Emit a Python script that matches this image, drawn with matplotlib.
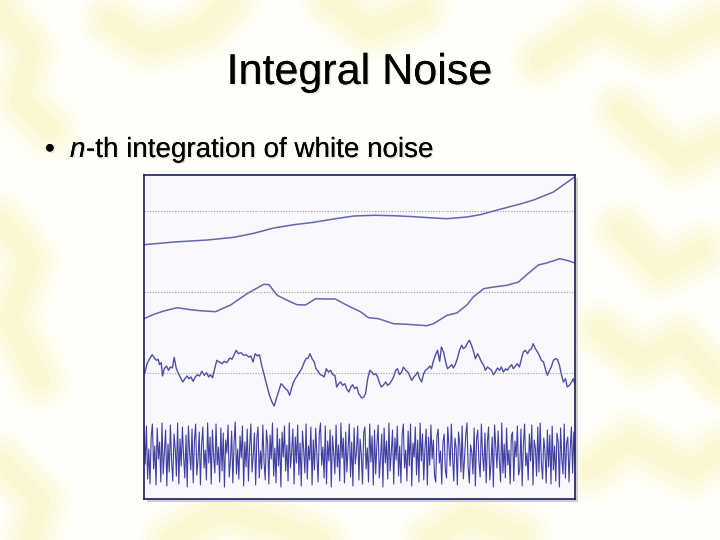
import numpy as np
import matplotlib.pyplot as plt
from matplotlib.patches import Rectangle
import matplotlib.patheffects as pe

# ---- data ----
# sample positions along each trace run 0..1000 (left to right edge of the box)
x_int3 = [0, 70, 147, 209, 255, 301, 348, 394, 440, 487, 533, 579, 626, 672,
          703, 749, 780, 826, 873, 904, 950, 1000]
y_int3 = [-33.7, -31, -29, -26.3, -22.3, -17, -13.7, -11.3, -8, -5, -4.3, -4.7,
          -5.7, -7, -7.7, -6, -3.7, 1.7, 7, 11, 19, 34.3]

x_int2 = [0, 23, 46, 77, 108, 131, 166, 201, 239, 278, 290, 309, 332, 355, 375,
          398, 425, 444, 471, 502, 521, 544, 579, 610, 633, 656, 672, 703, 726,
          749, 764, 788, 811, 842, 869, 888, 915, 934, 965, 981, 1000]
y_int2 = [-26.7, -22.3, -19, -15.7, -17.7, -18.7, -19.7, -13, -1.7, 7.7, 7.3,
          -3.3, -8.3, -12.7, -13, -6.7, -7, -7, -13.3, -19.7, -25.7, -26.7,
          -31.7, -32.3, -33, -33.7, -31.7, -23.3, -21, -13, -5, 3.3, 5, 6.7, 10,
          17.3, 27, 29, 33.3, 31.7, 29]

x_int1 = [2, 7, 13, 19, 24, 29, 33, 36, 40, 43, 47, 52, 57, 61, 66, 70, 75, 80,
          84, 90, 95, 100, 104, 109, 114, 119, 124, 129, 134, 140, 145, 150, 154,
          159, 164, 169, 175, 181, 186, 192, 199, 204, 209, 214, 219, 225, 231,
          237, 243, 248, 253, 258, 263, 268, 273, 279, 285, 291, 297, 302, 307,
          312, 318, 322, 328, 333, 338, 342, 347, 351, 356, 361, 366, 372, 376,
          381, 385, 390, 395, 399, 404, 409, 413, 418, 423, 428, 433, 438, 443,
          447, 452, 456, 461, 466, 470, 475, 480, 484, 489, 494, 498,
          501, 505, 510, 514, 519, 524, 528, 533, 538, 542, 547, 551, 556, 561,
          565, 570, 575, 579, 584, 588, 593, 598, 602, 607, 612, 616, 621, 626,
          630, 635, 639, 644, 649, 653, 658, 663, 667, 672, 676, 681, 686, 690,
          695, 700, 704, 709, 714, 718, 723, 727, 732, 737, 741, 746, 751, 755,
          760, 765, 769, 774, 778, 783, 788, 792, 797, 802, 806, 811, 815, 820,
          825, 829, 834, 839, 843, 848, 853, 857, 862, 866, 871, 876, 880, 885,
          890, 894, 899, 903, 908, 913, 917, 922, 927, 931, 936, 941, 945, 950,
          954, 959, 964, 968, 973, 978, 982, 987, 992, 996, 1000]
y_int1 = [0, 9.3, 14.3, 18.3, 15, 12.7, 13.7, 8.3, 10.3, -3, 4.3, 7, 2.7, 6, 5,
          15.7, 4.3, -0.7, -4, -9, -5.7, -3, -5.7, -4, -8.3, -4, -1.7, -3, 1.7,
          -2.3, 0.3, -4, -1.7, -4.7, 4.3, 12.7, 11, 9.3, 11.7, 10.3, 15, 13.7,
          18.3, 22.7, 19.3, 20.3, 17.7, 18.3, 16, 17, 11, 19.3, 17, 18.3, 7.7,
          -2.3, -12.3, -22.3, -29, -33, -25.7, -19, -10.7, -12.3, -15.7, -17.3,
          -22.3, -15.7, -9, -5.7, -2.3, 1, 4.3, 11, 14.3, 15, 19.3, 14.3, 11, 4.3,
          1.7, -1.7, -2.3, -4, 4.3, 1, 2.7, -1.7, -2.3, -14, -10.7, -9, -12.3,
          -10.7, -15.7, -19, -14, -11.7, -15.7, -14, -20.7,
          -22.3, -25, -24, -20.7, -5.7, 2.7, 1, -1.7, -0.7, -4, -10.7, -14,
          -11.7, -9, -12.3, -10.7, -7.3, -4, 2.7, 4.3, -1.7, 1, 6, 2.7, 1, -2.3,
          -7.3, -4, -2.3, 1, -5, -9, -0.7, 2.7, 4.3, 7, 4.3, 12.7, 17.7, 22.7,
          11.7, 26, 21, 11, 4.3, 6, 8.3, 5, 9.3, 14.3, 22.7, 27.7, 24.3, 26, 30.3,
          32.7, 27.7, 21, 14.3, 19.3, 16, 11, 7.7, 2.7, 6, 4.3, 2.7, -1.7, 1, 5,
          2.7, 6, 1, 4.3, 2.7, 6, 8.3, 4.3, 7, 9.3, 6, 14.3, 21, 22.7, 19.3, 22.7,
          24.3, 29.3, 24.3, 21, 17.7, 12.7, 11, 4.3, -2.3, 2.7, 6, 12.7, 14.3,
          13.7, 7.7, -0.7, -9, -5.7, -14, -12.3, -9, -5.7, -11.7]

white = [22, -10, 28, -25, 5, -30, 18, 30, -15, 8, -31, 26, -5, 12, -28, 31, -20, 3, 24, -32,
         10, -18, 29, -8, -27, 20, 6, -22, 31, -30, 15, -12, 27, -3, -24, 19, -33, 28, 2, -16,
         25, -29, 13, 30, -21, -6, 22, -31, 9, 27, -14, 4, -26, 31, -9, 17, -30, 24, -2, -19,
         30, -11, 7, -28, 26, -17, 21, -33, 14, 1, 29, -23, -7, 23, -29, 11, 32, -20, 5, -25,
         18, -4, 28, -32, 12, -13, 25, -27, 8, 30, -18, -1, 21, -31, 16, 27, -24, 3, -15, 29,
         -8, -26, 24, 10, -30, 19, -5, 31, -22, 6, -29, 26, -12, 15, -33, 22, -3, 28, -17, 9,
         -27, 31, -14, 2, 25, -30, 17, -9, 29, -21, 11, -32, 23, 4, -19, 30, -25, 8, -6, 27,
         -31, 14, -16, 26, -2, -28, 20, 31, -11, 7, -24, 28, -30, 13, -7, 24, -33, 18, 1, -20,
         29, -13, 9, -27, 31, -4, 16, -29, 22, -18, 5, 30, -23, 12, -32, 26, -10, 3, 28, -26,
         15, -1, -30, 21, 27, -15, 6, -28, 30, -8, 18, -31, 24, -20, 10, 29, -24, -5, 20, -33,
         26, -9, 13, -25, 31, -17, 2, 24, -30, 16, -6, 28, -22, 8, -29, 19, 30, -14, 4, -27,
         23, -12, 30, -32, 11, -3, 27, -21, 14, -28, 31, -7, 20, -26, 5, 25, -31, 17, -11, 29,
         -5, 14, -22, -28, 18, 25, -9, 3, -30, 12, 20, -16, -24, 27, 8, -12, 30, -2, -27, 16,
         6, -31, 22, 11, -18, 28, -25, -4, 19, 31, -13, -29, 9, 2, -20, 26, -32, 15, 24, -8,
         -23, 30, -1, -17, 21, -29, 12, 27, -26, -10, 17, -33, 29, 7, -14, 23, -6, -28, 31, -19,
         10, -24, 26, -11, 4, -30, 18, 22, -27, 13, -3, 28, -21, -15, 25, -32, 9, 30, -12, 1,
         -26, 20, -7, 29, -31, 14, 6, -22, 27, -18, 31, -9, -25, 16, 3, -29, 24, -13, 19, -30,
         28, -16, 8, -27, 21, 12, -33, 26, -5, -20, 30, -24, 11, 17, -28, 5, 27, -19, 22, -10]

title = "Integral Noise"
bullet_var = "n"
bullet_rest = "-th integration of white noise"

# vertical spacing between the stacked traces
spacing = 81

plt.rcParams['font.family'] = ['Liberation Sans', 'DejaVu Sans']

fig = plt.figure(figsize=(7.2, 5.4), dpi=100)
fig.patch.set_facecolor('#fffffa')

# --- soft yellow swirls in the slide background ---
bg = fig.add_axes([0, 0, 1, 1], zorder=-10)
bg.set_xlim(0, 720)
bg.set_ylim(540, 0)
bg.axis('off')
swirls = [
    [(0, 10), (30, 50), (20, 100), (50, 130)],
    [(110, 20), (150, 45), (200, 30), (230, 0)],
    [(540, 60), (600, 20), (660, 50), (720, 20)],
    [(620, 110), (680, 160), (720, 140)],
    [(0, 220), (30, 260), (10, 320), (40, 380)],
    [(600, 330), (640, 360), (680, 340), (720, 380)],
    [(590, 470), (630, 440), (690, 470), (720, 450)],
    [(170, 540), (220, 510), (280, 525), (320, 540)],
    [(430, 540), (470, 515), (520, 535)],
    [(0, 460), (40, 500), (30, 540)],
    [(330, 0), (370, 30), (420, 10)],
    [(620, 230), (660, 270), (700, 250)],
]
for pts in swirls:
    px, py = zip(*pts)
    for lw, a in [(44, 0.07), (34, 0.08), (24, 0.09), (14, 0.1)]:
        bg.plot(px, py, color='#f3e67a', lw=lw, alpha=a,
                solid_capstyle='round', solid_joinstyle='round')

# --- slide text ---
shadow = [pe.withSimplePatchShadow(offset=(1, -1), shadow_rgbFace='#c8c8c8', alpha=0.5),
          pe.Normal()]
fig.text(0.499, 1 - 84 / 540, title, ha='center', va='baseline', fontsize=31,
         color='black', path_effects=shadow)
fig.text(45 / 720, 1 - 157 / 540, "\u2022", ha='left', va='baseline', fontsize=20,
         path_effects=shadow)
fig.text(70 / 720, 1 - 157 / 540, bullet_var, ha='left', va='baseline', fontsize=20,
         style='italic', path_effects=shadow)
fig.text(86 / 720, 1 - 157 / 540, bullet_rest, ha='left', va='baseline', fontsize=20,
         path_effects=shadow)

# --- chart ---
left, right, top, bottom = 144 / 720, 575 / 720, 1 - 175 / 540, 1 - 499 / 540
shadow_box = Rectangle((left + 3 / 720, bottom - 3 / 540), right - left, top - bottom,
                       transform=fig.transFigure, facecolor='#cfcfcf',
                       edgecolor='none', zorder=-5)
fig.add_artist(shadow_box)
ax = fig.add_axes([left, bottom, right - left, top - bottom], zorder=1)
ax.set_facecolor('#f9f9fd')

for k in range(4):
    ax.axhline(k * spacing, color='#a0a0a0', lw=0.8, ls=(0, (1, 1.5)), zorder=1)

x_white = np.linspace(0, 1000, len(white))
ax.plot(x_white, np.array(white), color='#4040a4', lw=0.8, zorder=2)
ax.plot(x_int1, np.array(y_int1) + spacing, color='#4f4fa8', lw=1.0, zorder=2)
ax.plot(x_int2, np.array(y_int2) + 2 * spacing, color='#6565b0', lw=1.1, zorder=2)
ax.plot(x_int3, np.array(y_int3) + 3 * spacing, color='#6565b0', lw=1.1, zorder=2)

ax.set_xlim(0, 1000)
ax.set_ylim(-45, 3 * spacing + 36)
ax.set_xticks([])
ax.set_yticks([])
for s in ax.spines.values():
    s.set_color('#1c1c6a')
    s.set_linewidth(1.2)

fig.savefig("out.png", dpi=100, facecolor=fig.get_facecolor())
